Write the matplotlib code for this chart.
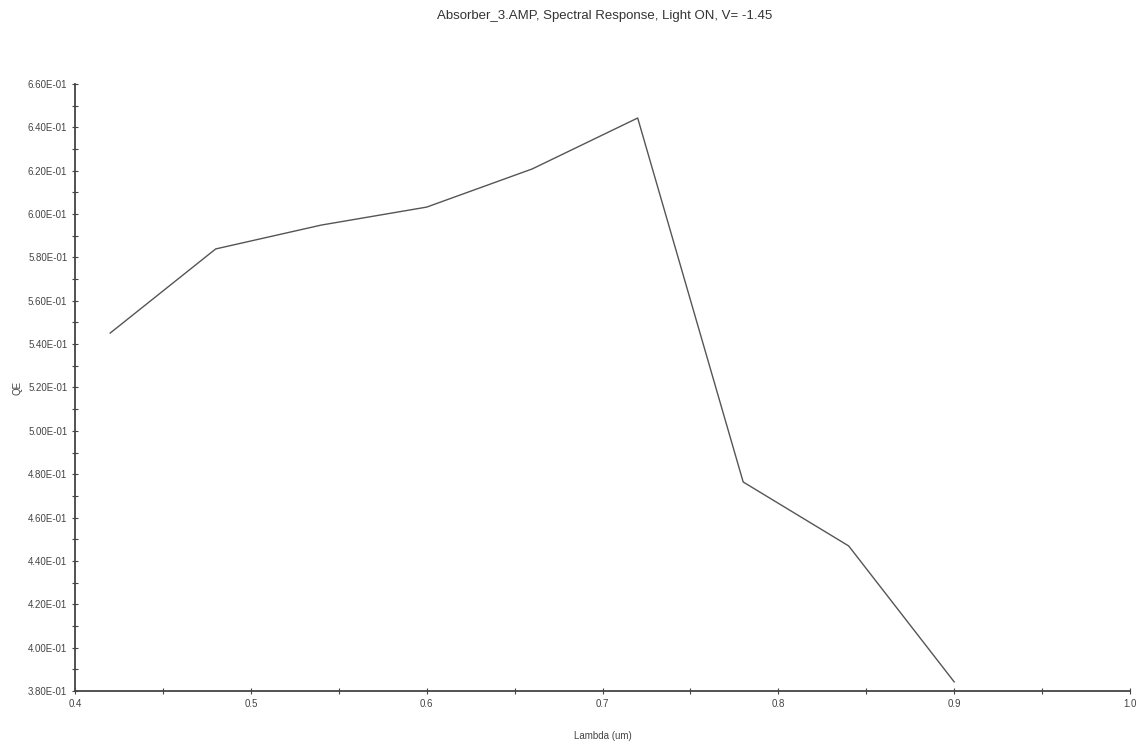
import numpy as np
import matplotlib
matplotlib.use("Agg")
import matplotlib.pyplot as plt
from matplotlib.ticker import MultipleLocator, FuncFormatter

# =========================
# Data
# =========================
wavelength = [0.42, 0.48, 0.54, 0.60, 0.66, 0.72, 0.78, 0.84, 0.90]
qe = [0.5451, 0.5839, 0.5949, 0.6032, 0.6208, 0.6443, 0.4764, 0.4469, 0.3842]

title = "Absorber_3.AMP, Spectral Response, Light ON, V= -1.45"
xlabel = "Lambda (um)"
ylabel = "QE"

plt.rcParams['font.family'] = ['Liberation Sans Narrow', 'Liberation Sans', 'DejaVu Sans']

# =========================
# Plot
# =========================
fig = plt.figure(figsize=(11.47, 7.47), dpi=100)
ax = fig.add_axes([0.0654, 0.075, 0.9198, 0.8126])

ax.plot(wavelength, qe, color="#555555", linewidth=1.0)

ax.set_xlim(0.4, 1.0)
ax.set_ylim(0.38, 0.66)

ax.xaxis.set_major_locator(MultipleLocator(0.1))
ax.xaxis.set_minor_locator(MultipleLocator(0.05))
ax.yaxis.set_major_locator(MultipleLocator(0.02))
ax.yaxis.set_minor_locator(MultipleLocator(0.01))
ax.xaxis.set_major_formatter(FuncFormatter(lambda v, p: f"{v:.1f}"))
ax.yaxis.set_major_formatter(FuncFormatter(lambda v, p: f"{v:.2E}"))

for side in ["top", "right"]:
    ax.spines[side].set_visible(False)
for side in ["left", "bottom"]:
    ax.spines[side].set_color("#444444")
    ax.spines[side].set_linewidth(1.3)

ax.tick_params(which="both", direction="inout", color="#444444", labelsize=7, labelcolor="#444444")
ax.tick_params(which="major", length=5, width=0.8, pad=3)
ax.tick_params(which="minor", length=4, width=0.8)

fig.text(0.527, 0.978, title, ha="center", va="center", fontsize=9.5, color="#333333")
ax.set_xlabel(xlabel, fontsize=7, color="#444444", labelpad=16)
ax.set_ylabel(ylabel, fontsize=7, color="#444444", labelpad=4)

fig.savefig("out.png", dpi=100)
